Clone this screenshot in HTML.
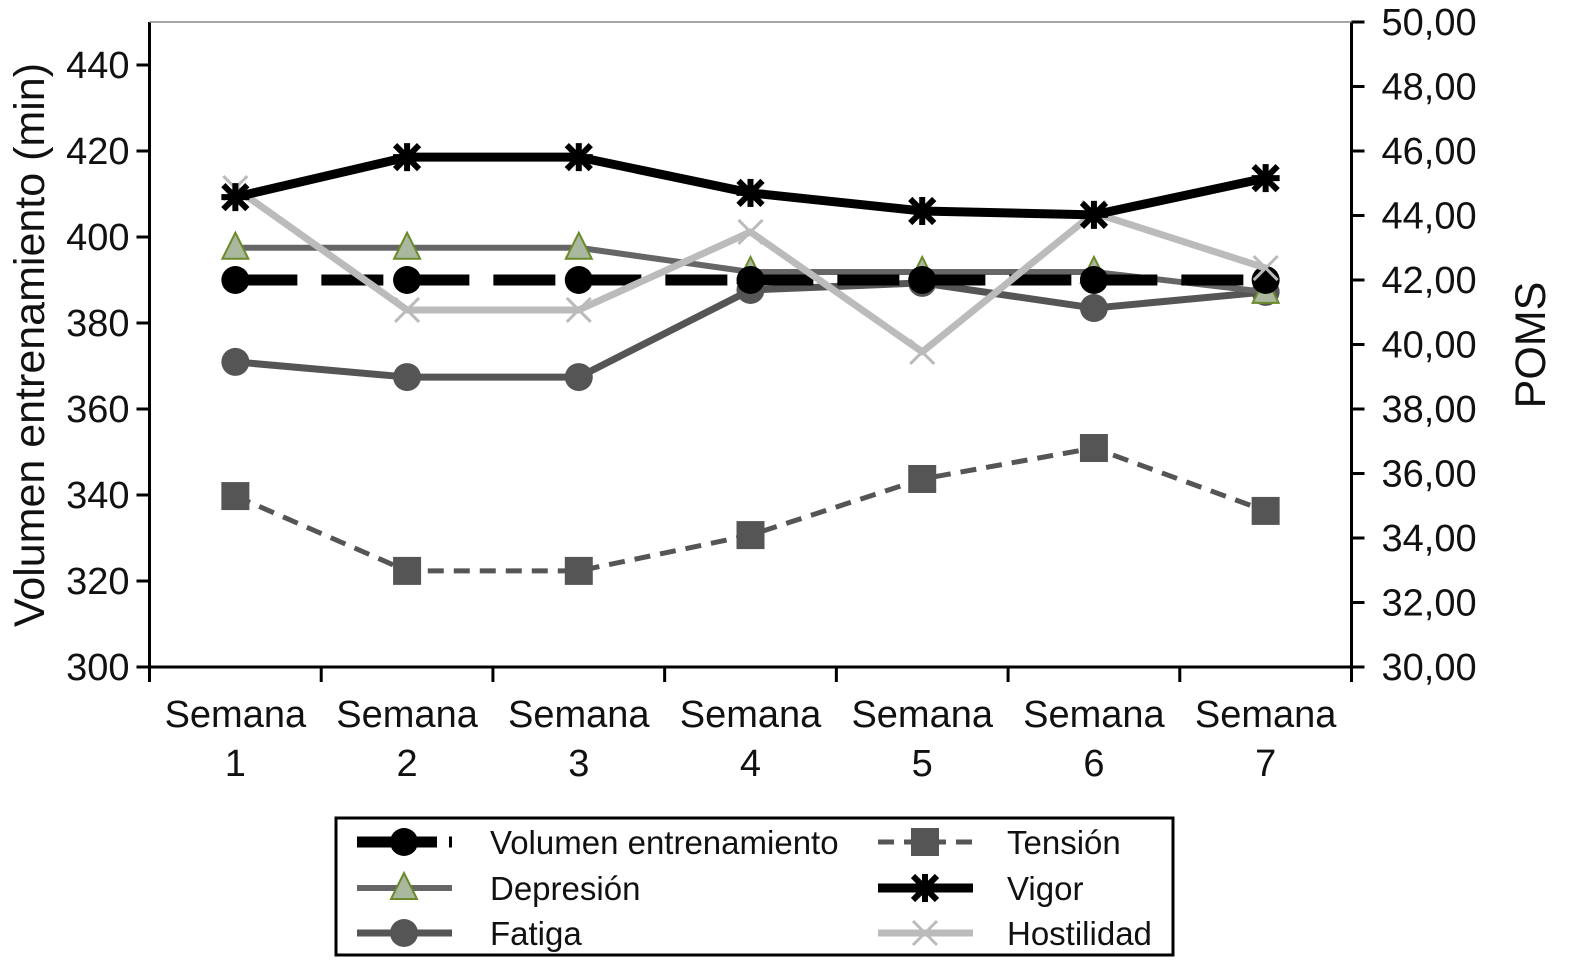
<!DOCTYPE html>
<html><head><meta charset="utf-8"><style>
body{margin:0;background:#fff;width:1589px;height:975px;overflow:hidden}
svg text{font-family:"Liberation Sans",sans-serif;fill:#111}
</style></head><body>
<svg id="chart" width="1589" height="975"></svg>
<script>
const categories=["1","2","3","4","5","6","7"];
const volumen=[390,390,390,390,390,390,390];
const tension=[35.30,32.98,32.98,34.09,35.83,36.79,34.84];
const depresion=[43.0,43.0,43.0,42.25,42.25,42.25,41.63];
const vigor=[44.57,45.81,45.81,44.70,44.14,44.02,45.16];
const fatiga=[39.46,38.99,38.99,41.69,41.91,41.13,41.63];
const hostilidad=[44.85,41.07,41.07,43.49,39.77,44.08,42.37];
const leftTicks=[300,320,340,360,380,400,420,440];
const rightTicks=["30,00","32,00","34,00","36,00","38,00","40,00","42,00","44,00","46,00","48,00","50,00"];

const NS="http://www.w3.org/2000/svg";
const svg=document.getElementById('chart');
function el(t,a,p){const e=document.createElementNS(NS,t);for(const k in a)e.setAttribute(k,a[k]);(p||svg).appendChild(e);return e;}
const X0=149.5,X1=1351.5,Ytop=22,Ybot=667;
const xs=i=>X0+(X1-X0)/categories.length*(i+0.5);
const yl=v=>Ybot-(v-300)/150*(Ybot-Ytop);
const yr=v=>Ybot-(v-30)/20*(Ybot-Ytop);

let e=el('line',{x1:X0,y1:Ytop,x2:X0,y2:Ybot,stroke:'#000','stroke-width':3});

e=el('line',{x1:X1,y1:Ytop,x2:X1,y2:Ybot,stroke:'#000','stroke-width':3});

e=el('line',{x1:X0,y1:Ybot,x2:X1,y2:Ybot,stroke:'#000','stroke-width':3});

el('line',{x1:X0,y1:Ytop,x2:X1,y2:Ytop,stroke:'#888','stroke-width':1.5});
leftTicks.forEach(v=>{const y=yl(v);el('line',{x1:X0-13,y1:y,x2:X0,y2:y,stroke:'#000','stroke-width':3});
 const t=el('text',{x:X0-20,y:y+13,'text-anchor':'end','font-size':38});t.textContent=v;
 });
rightTicks.forEach((s,i)=>{const y=yr(30+2*i);el('line',{x1:X1,y1:y,x2:X1+13,y2:y,stroke:'#000','stroke-width':3});
 const t=el('text',{x:X1+30,y:y+13,'font-size':38});t.textContent=s;
 });
for(let i=0;i<=categories.length;i++){const x=X0+(X1-X0)/categories.length*i;el('line',{x1:x,y1:Ybot,x2:x,y2:Ybot+15,stroke:'#000','stroke-width':3});}
categories.forEach((c,i)=>{const t=el('text',{x:xs(i),y:727,'text-anchor':'middle','font-size':38});t.textContent='Semana';
 
 const t2=el('text',{x:xs(i),y:776,'text-anchor':'middle','font-size':38});t2.textContent=c;
 });
let t=el('text',{x:0,y:0,'font-size':43,'text-anchor':'middle',transform:'translate(44,345) rotate(-90)'});t.textContent='Volumen entrenamiento (min)';

t=el('text',{x:0,y:0,'font-size':43,'text-anchor':'middle',transform:'translate(1545,345) rotate(-90)'});t.textContent='POMS';


function marker(type,x,y,g){
 if(type==='circle')el('circle',{cx:x,cy:y,r:14,fill:g.color},g.el);
 if(type==='square')el('rect',{x:x-14,y:y-14,width:28,height:28,fill:g.color},g.el);
 if(type==='tri')el('polygon',{points:`${x},${y-15} ${x+13},${y+11} ${x-13},${y+11}`,fill:'#aab8a0',stroke:'#6b8a2a','stroke-width':2},g.el);
 if(type==='star'){[[-12,-12,12,12],[-12,12,12,-12],[0,-14,0,14],[-14,0,14,0]].forEach(a=>el('line',{x1:x+a[0],y1:y+a[1],x2:x+a[2],y2:y+a[3],stroke:g.color,'stroke-width':6},g.el));}
 if(type==='x'){[[-12,-12,12,12],[-12,12,12,-12]].forEach(a=>el('line',{x1:x+a[0],y1:y+a[1],x2:x+a[2],y2:y+a[3],stroke:g.color,'stroke-width':3},g.el));}
}
function series(name,vals,yf,color,w,dash,mk){
 const g=el('g',{});
 const pts=vals.map((v,i)=>xs(i)+','+yf(v)).join(' ');
 const a={points:pts,fill:'none',stroke:color,'stroke-width':w,'stroke-linejoin':'round'};if(dash)a['stroke-dasharray']=dash;
 el('polyline',a,g);
 vals.forEach((v,i)=>marker(mk,xs(i),yf(v),{el:g,color}));
}
series('series-tension',tension,yr,'#555',5,'16,10','square');
series('series-fatiga',fatiga,yr,'#555',7,null,'circle');
series('series-depresion',depresion,yr,'#666',6,null,'tri');
series('series-volumen',volumen,yl,'#000',11,'62,24','circle');
series('series-hostilidad',hostilidad,yr,'#bbb',7,null,'x');
series('series-vigor',vigor,yr,'#000',9,null,'star');

const lg=el('g',{});
el('rect',{x:336,y:818,width:837,height:137,fill:'#fff',stroke:'#000','stroke-width':3},lg);
const items=[['Volumen entrenamiento','#000',11,'34,12','circle',357,842],['Depresión','#666',6,null,'tri',357,888],['Fatiga','#555',7,null,'circle',357,933],
['Tensión','#555',5,'16,10','square',878,842],['Vigor','#000',9,null,'star',878,888],['Hostilidad','#bbb',7,null,'x',878,933]];
items.forEach(it=>{const g=el('g',{},lg);
 const a={x1:it[5],y1:it[6],x2:it[5]+95,y2:it[6],stroke:it[1],'stroke-width':it[2]};if(it[3])a['stroke-dasharray']=it[3];el('line',a,g);
 marker(it[4],it[5]+47,it[6],{el:g,color:it[1]});
 const tx=el('text',{x:it[5]===357?490:1007,y:it[6]+12,'font-size':33},g);tx.textContent=it[0];});
</script>
</body></html>
